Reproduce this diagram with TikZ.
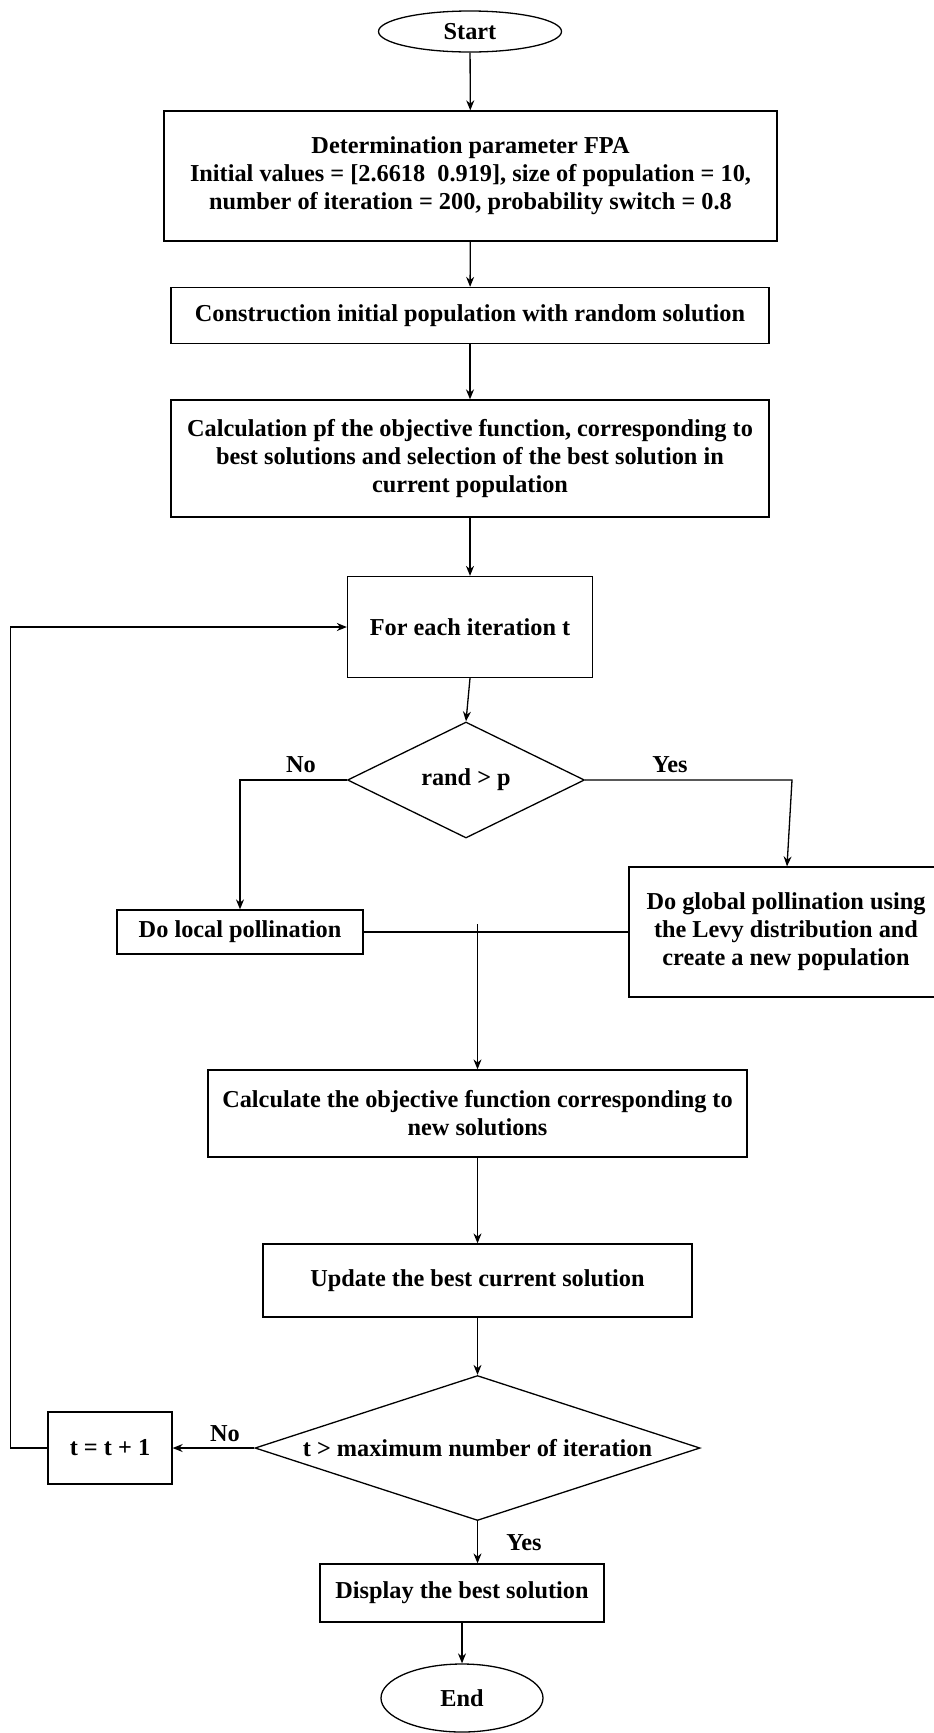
\documentclass[tikz,border=0pt]{standalone}
\usepackage{fontspec}
\setmainfont{Liberation Serif}
\usetikzlibrary{shapes.geometric,arrows.meta}

\begin{document}
\begin{tikzpicture}[x=1pt,y=-1pt,
  line width=1.3pt,
  every node/.style={font=\bfseries\fontsize{24.3}{28}\selectfont, inner sep=0pt},
  procbox/.style={draw, rectangle, align=center},
  terminal/.style={draw, ellipse},
  decision/.style={draw, diamond},
  flow/.style={-{Stealth[length=10pt,width=8pt]}},
  lbl/.style={}
]
\useasboundingbox (0,0) rectangle (934,1733);
\fill[white] (0,0) rectangle (934,1733);

% main chain
\node[terminal, minimum width=183pt, minimum height=41pt] (start) at (470,31.5) {Start};
\node[procbox, minimum width=613pt, minimum height=130pt] (param) at (470.5,176)
  {Determination parameter FPA\\Initial values = [2.6618\ \ 0.919], size of population = 10,\\number of iteration = 200, probability switch = 0.8};
\node[procbox, minimum width=598pt, minimum height=56pt] (init) at (470,315.5)
  {Construction initial population with random solution};
\node[procbox, minimum width=598pt, minimum height=117pt] (objective) at (470,458.5)
  {Calculation pf the objective function, corresponding to\\best solutions and selection of the best solution in\\current population};
\node[procbox, minimum width=245pt, minimum height=101pt] (iter) at (470,627) {For each iteration t};

% first decision
\node[decision, minimum width=237pt, minimum height=116pt] (rand) at (466,780) {};
\node at (rand.center) {rand > p};
\node[procbox, minimum width=246pt, minimum height=44pt] (local) at (240,932) {Do local pollination};
\node[procbox, minimum width=314pt, minimum height=130pt] (global) at (786,932)
  {Do global pollination using\\the Levy distribution and\\create a new population};

\coordinate (merge) at (477.5,924);
\node[procbox, minimum width=539pt, minimum height=87pt] (calc) at (477.5,1113.5)
  {Calculate the objective function corresponding to\\new solutions};
\node[procbox, minimum width=429pt, minimum height=73pt] (update) at (477.5,1280.5)
  {Update the best current solution};

% second decision
\node[decision, minimum width=445pt, minimum height=145pt] (maxit) at (477.5,1448) {};
\node at (maxit.center) {t > maximum number of iteration};
\node[procbox, minimum width=124pt, minimum height=72pt] (incr) at (110,1448) {t = t + 1};
\node[procbox, minimum width=284pt, minimum height=58pt] (display) at (462,1593) {Display the best solution};
\node[terminal, minimum width=162pt, minimum height=68pt] (stop) at (462,1698) {End};

\coordinate (loopx) at (10.5,1448);
\coordinate (yesbend) at (792,780);

% connectors
\draw[flow] (start) -- (param);
\draw[flow] (param) -- (init);
\draw[flow] (init) -- (objective);
\draw[flow] (objective) -- (iter);
\draw[flow] (iter.south) -- (rand.north);
\draw[flow] (rand.west) -| (local.north);
\draw[flow] (rand.east) -- (yesbend) -- ([xshift=1pt]global.north);
\draw (local.east) -- (global.west);
\draw[flow] (merge) -- (calc.north);
\draw[flow] (calc) -- (update);
\draw[flow] (update) -- (maxit.north);
\draw[flow] (maxit.west) -- (incr.east);
\draw[flow] (incr.west) -- (loopx) |- (iter.west);
\draw[flow] (maxit.south) -- (maxit.south |- display.north);
\draw[flow] (display) -- (stop);

% branch labels
\node[lbl] at (301,765) {No};
\node[lbl] at (670,765) {Yes};
\node[lbl] at (225,1434) {No};
\node[lbl] at (524,1543) {Yes};
\end{tikzpicture}
\end{document}
